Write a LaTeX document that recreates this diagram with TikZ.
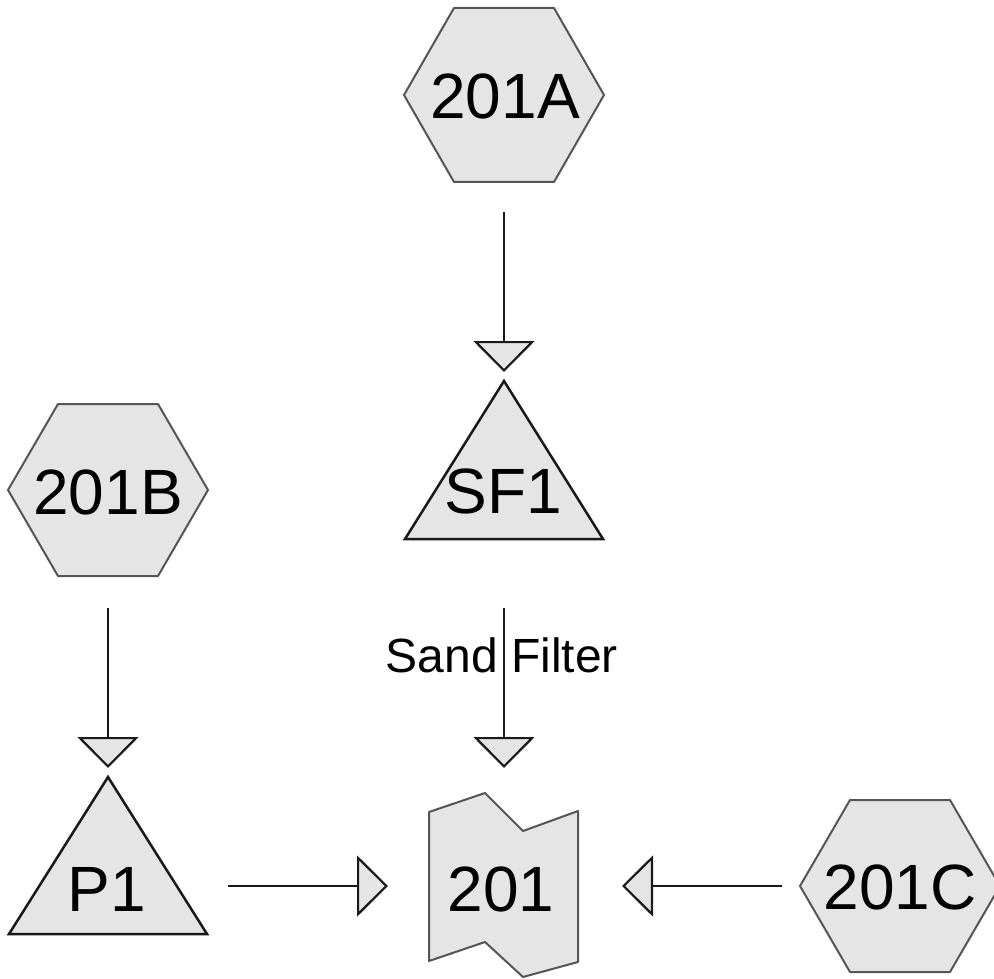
\documentclass[tikz,border=0pt]{standalone}
\usepackage{fontspec}
\setmainfont{Liberation Sans}
\usetikzlibrary{arrows.meta}
\definecolor{shapefill}{RGB}{229,229,229}
\definecolor{hexline}{RGB}{85,85,85}
\tikzset{
  hexshape/.style={fill=shapefill, draw=hexline, line width=2pt, line join=round},
  trishape/.style={fill=shapefill, draw=black!90, line width=2.5pt, line join=miter},
  tankshape/.style={fill=shapefill, draw=hexline, line width=2pt, line join=round},
  bigtext/.style={font=\fontsize{64}{64}\selectfont, inner sep=0pt},
  labeltext/.style={font=\fontsize{48}{48}\selectfont, inner sep=0pt},
  flow/.style={line width=2.2pt, draw=black!90,
    -{Triangle[length=31pt,width=61pt,fill=shapefill,line width=2.2pt]}},
}
\begin{document}
\begin{tikzpicture}[x=1pt,y=-1pt]
\useasboundingbox (0,0) rectangle (994,979);
% hexagons
\draw[hexshape, shift={(504,95)}] (-100,0) -- (-50,-87) -- (50,-87) -- (100,0) -- (50,87) -- (-50,87) -- cycle;
\draw[hexshape, shift={(108,490)}] (-100,0) -- (-50,-86) -- (50,-86) -- (100,0) -- (50,86) -- (-50,86) -- cycle;
\draw[hexshape, shift={(900,886)}] (-100,0) -- (-50,-86) -- (50,-86) -- (100,0) -- (50,86) -- (-50,86) -- cycle;
% triangles
\draw[trishape] (504,381) -- (603,539) -- (405,539) -- cycle;
\draw[trishape] (108,777) -- (207,934) -- (9,934) -- cycle;
% tank
\draw[tankshape] (429,812) -- (485,793) -- (523,831) -- (578,811) -- (578,962) -- (523,977) -- (485,942) -- (429,961) -- cycle;
% texts
\node[bigtext] (t201A) at (505,96) {201A};
\node[bigtext] (t201B) at (108,492) {201B};
\node[bigtext] (t201C) at (900,887) {201C};
\node[bigtext] (tSF1) at (503,491) {SF1};
\node[bigtext] (tP1) at (107,889) {P1};
\node[bigtext] (t201) at (501,889) {201};
% connector end points
\coordinate (aout) at (504,212);
\coordinate (sfin) at (504,372);
\coordinate (sfout) at (504,608);
\coordinate (tankin1) at (504,768);
\coordinate (bout) at (108,608);
\coordinate (pin) at (108,768);
\coordinate (pout) at (228,886);
\coordinate (tankin2) at (388,886);
\coordinate (cout) at (782,886);
\coordinate (tankin3) at (622,886);
% connectors
\draw[flow] (aout) -- (sfin);
\draw[flow] (sfout) -- (tankin1);
\draw[flow] (bout) -- (pin);
\draw[flow] (pout) -- (tankin2);
\draw[flow] (cout) -- (tankin3);
\node[labeltext] (lsand) at (502,655) {Sand Filter};
\end{tikzpicture}
\end{document}
